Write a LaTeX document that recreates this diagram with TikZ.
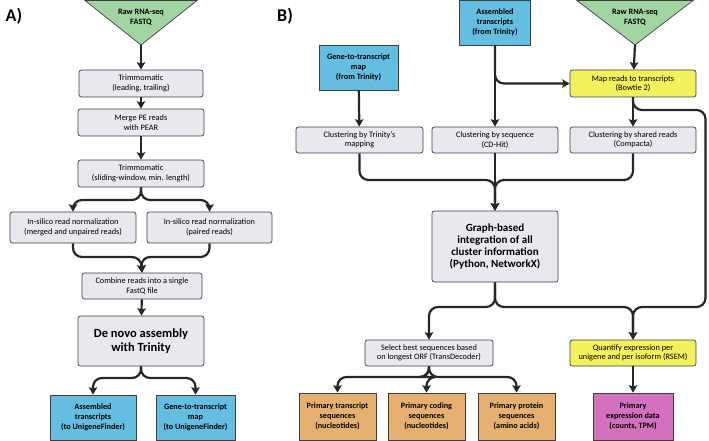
\documentclass[tikz,border=0pt]{standalone}
\usepackage{fontspec}
\setmainfont{Carlito}
\usetikzlibrary{arrows.meta}

\definecolor{boxgray}{RGB}{232,232,238}
\definecolor{rawgreen}{RGB}{160,212,160}
\definecolor{trinblue}{RGB}{100,190,225}
\definecolor{toolyellow}{RGB}{242,240,92}
\definecolor{seqorange}{RGB}{230,176,112}
\definecolor{exprpurple}{RGB}{212,112,190}

\begin{document}
\begin{tikzpicture}[x=1pt,y=-1pt,
  box/.style={draw=black!75,line width=0.7pt,fill=boxgray,rounded corners=2.5pt,align=center,inner sep=1pt,font=\fontsize{8.3}{9.5}\selectfont},
  bigbox/.style={box,font=\fontsize{11}{11.8}\selectfont\bfseries},
  filebox/.style={draw=black!75,line width=0.7pt,fill=#1,align=center,inner sep=1pt,font=\fontsize{8.2}{10}\selectfont\bfseries},
  toolbox/.style={box,fill=toolyellow},
  flow/.style={draw=black!85,line width=2.2pt,rounded corners=9pt,-{Stealth[length=7.5pt,width=8.5pt,inset=1.5pt]}},
  panel/.style={font=\fontsize{18}{18}\selectfont\bfseries}]
  \useasboundingbox (0,0) rectangle (709,441);

  \node[panel] (labA) at (14,16) {A)};
  \node[panel] (labB) at (285,16) {B)};

  \draw[draw=black!75,line width=0.7pt,fill=rawgreen] (85,0.5) -- (197,0.5) -- (141,45) -- cycle;
  \coordinate (tipA) at (141,45);
  \node[align=center,font=\fontsize{8.2}{10.5}\selectfont\bfseries] (rawA) at (141,17.5) {Raw RNA-seq\\FASTQ};

  \node[box,minimum width=124pt,minimum height=27pt] (trimA) at (141,83.5) {Trimmomatic\\(leading, trailing)};
  \node[box,minimum width=126pt,minimum height=27pt] (pear) at (141,122.5) {Merge PE reads\\with PEAR};
  \node[box,minimum width=126pt,minimum height=27pt] (slide) at (141,173.5) {Trimmomatic\\(sliding-window, min. length)};
  \node[box,minimum width=126pt,minimum height=31pt] (normL) at (73,227.5) {In-silico read normalization\\(merged and unpaired reads)};
  \node[box,minimum width=125pt,minimum height=31pt] (normR) at (209.5,227.5) {In-silico read normalization\\(paired reads)};
  \node[box,minimum width=120pt,minimum height=26pt] (comb) at (142,286) {Combine reads into a single\\FastQ file};
  \node[box,minimum width=126pt,minimum height=50pt,font=\fontsize{12.5}{14}\selectfont\bfseries] (denovo) at (141,341) {De novo assembly\\with Trinity};
  \node[filebox=trinblue,minimum width=86pt,minimum height=45pt] (asmA) at (93,417.5) {Assembled\\transcripts\\(to UnigeneFinder)};
  \node[filebox=trinblue,minimum width=79pt,minimum height=45pt] (mapA) at (195.5,417.5) {Gene-to-transcript\\map\\(to UnigeneFinder)};

  \draw[flow] (tipA) -- (trimA);
  \draw[flow] (trimA) -- (pear);
  \draw[flow] (pear) -- (slide);
  \draw[flow] (slide.south) -- (141,200) -- (73,200) -- (normL.north);
  \draw[flow] (slide.south) -- (141,200) -- (209.5,200) -- (normR.north);
  \draw[flow] (normL.south) -- (73,257) -- (141,257) -- (comb.north);
  \draw[flow] (normR.south) -- (209.5,257) -- (141,257) -- (comb.north);
  \draw[flow] (comb) -- (denovo);
  \draw[flow] (denovo.south) -- (141,378) -- (93,378) -- (asmA.north);
  \draw[flow] (denovo.south) -- (141,378) -- (195.5,378) -- (mapA.north);

  \draw[draw=black!75,line width=0.7pt,fill=rawgreen] (577,0.5) -- (693,0.5) -- (635,45) -- cycle;
  \coordinate (tipB) at (635,45);
  \node[align=center,font=\fontsize{8.2}{10.5}\selectfont\bfseries] (rawB) at (635,17.5) {Raw RNA-seq\\FASTQ};

  \node[filebox=trinblue,minimum width=71pt,minimum height=45pt] (asmB) at (495,22.5) {Assembled\\transcripts\\(from Trinity)};
  \node[filebox=trinblue,minimum width=79pt,minimum height=45pt] (mapB) at (358.5,67.5) {Gene-to-transcript\\map\\(from Trinity)};
  \node[toolbox,minimum width=126pt,minimum height=27pt] (bowtie) at (633,83.5) {Map reads to transcripts\\(Bowtie 2)};
  \node[box,minimum width=127pt,minimum height=26pt] (clTrin) at (359.5,140) {Clustering by Trinity's\\mapping};
  \node[box,minimum width=126pt,minimum height=26pt] (clSeq) at (495,140) {Clustering by sequence\\(CD-Hit)};
  \node[box,minimum width=126pt,minimum height=26pt] (clRead) at (633,140) {Clustering by shared reads\\(Compacta)};
  \node[bigbox,minimum width=126pt,minimum height=71pt] (graph) at (495,246.5) {Graph-based\\integration of all\\cluster information\\(Python, NetworkX)};
  \node[box,minimum width=128pt,minimum height=26pt] (orf) at (429,353) {Select best sequences based\\on longest ORF (TransDecoder)};
  \node[toolbox,minimum width=126pt,minimum height=26pt] (rsem) at (633,353) {Quantify expression per\\unigene and per isoform (RSEM)};
  \node[filebox=seqorange,minimum width=77pt,minimum height=47pt] (ptx) at (337.5,416.5) {Primary transcript\\sequences\\(nucleotides)};
  \node[filebox=seqorange,minimum width=77pt,minimum height=47pt] (pcds) at (426.5,416.5) {Primary coding\\sequences\\(nucleotides)};
  \node[filebox=seqorange,minimum width=77pt,minimum height=47pt] (pprot) at (516.5,416.5) {Primary protein\\sequences\\(amino acids)};
  \node[filebox=exprpurple,minimum width=80pt,minimum height=47pt] (expr) at (633,416.5) {Primary\\expression data\\(counts, TPM)};

  \draw[flow] (tipB) -- (bowtie);
  \draw[flow] (asmB) -- (clSeq);
  \draw[flow] (asmB.south) |- (bowtie.west);
  \draw[flow] (mapB) -- (clTrin);
  \draw[flow] (bowtie) -- (clRead);
  \draw[flow] (bowtie.south) -- (633,110) -- (705.5,110) -- (705.5,307) -- (633,307) -- (rsem.north);
  \draw[flow] (clTrin.south) -- (359.5,180) -- (495,180) -- (graph.north);
  \draw[flow] (clRead.south) -- (633,180) -- (495,180) -- (graph.north);
  \draw[flow] (clSeq) -- (graph);
  \draw[flow] (graph.south) -- (495,307) -- (429,307) -- (orf.north);
  \draw[flow] (graph.south) -- (495,307) -- (633,307) -- (rsem.north);
  \draw[flow] (orf.south) -- (429,377) -- (337.5,377) -- (ptx.north);
  \draw[flow] (orf.south) -- (429,377) -- (516.5,377) -- (pprot.north);
  \draw[flow] (orf.south) -- (429,377) -- (426.5,377) -- (pcds.north);
  \draw[flow] (rsem) -- (expr);
\end{tikzpicture}
\end{document}
